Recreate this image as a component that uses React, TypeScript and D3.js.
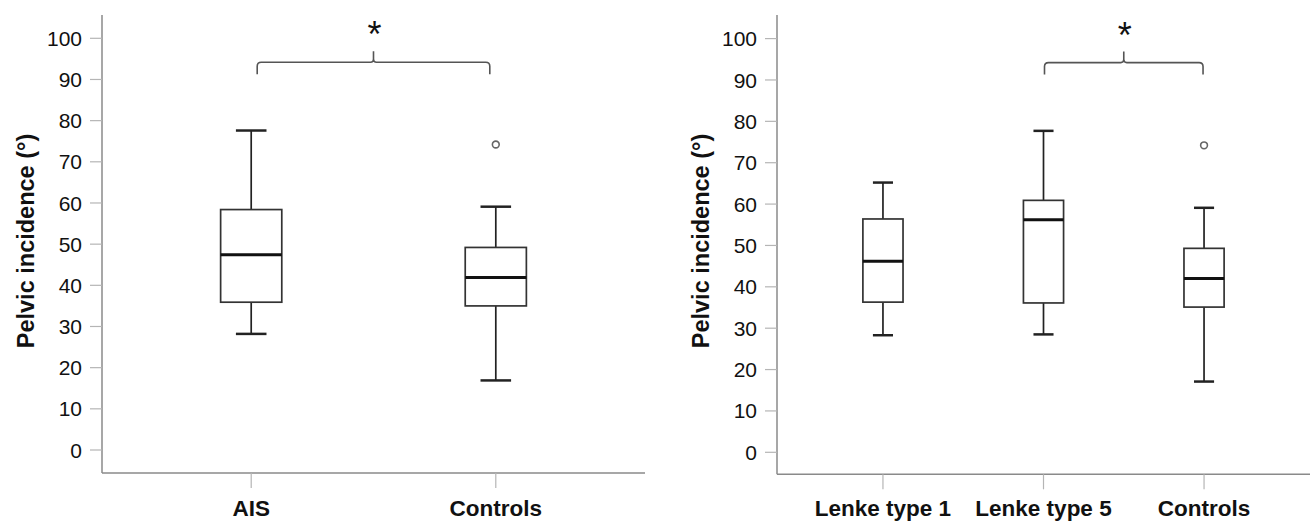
import React, { useRef, useEffect } from 'react';
import * as d3 from 'd3';

// tick labels shared by both panels
const yTicks = [0, 10, 20, 30, 40, 50, 60, 70, 80, 90, 100];

// left panel: AIS vs controls
const aisCategories = ['AIS', 'Controls'];
const aisWhiskerLow = [28.2, 16.9];
const aisQ1 = [35.9, 35.0];
const aisMedian = [47.4, 41.9];
const aisQ3 = [58.4, 49.2];
const aisWhiskerHigh = [77.6, 59.1];
const aisOutliers = [[], [74.2]];

// right panel: Lenke types vs controls
const lenkeCategories = ['Lenke type 1', 'Lenke type 5', 'Controls'];
const lenkeWhiskerLow = [28.3, 28.5, 17.1];
const lenkeQ1 = [36.3, 36.1, 35.1];
const lenkeMedian = [46.2, 56.2, 42.0];
const lenkeQ3 = [56.4, 60.9, 49.3];
const lenkeWhiskerHigh = [65.2, 77.7, 59.1];
const lenkeOutliers = [[], [], [74.2]];

interface PanelOpts {
  categories: string[];
  low: number[];
  q1: number[];
  median: number[];
  q3: number[];
  high: number[];
  outliers: number[][];
  left: number;
  right: number;
  top: number;
  bottom: number;
  y0: number;
  y100: number;
  padding: number;
  bracket: [number, number];
  bracketInset: number;
}

const FONT = 'Liberation Sans, Arial, Helvetica, sans-serif';

function drawPanel(svg: d3.Selection<SVGSVGElement, unknown, null, undefined>, o: PanelOpts) {
  const g = svg.append('g');

  const x = d3.scalePoint<string>()
    .domain(o.categories)
    .range([o.left, o.right])
    .padding(o.padding);

  const y = d3.scaleLinear().domain([0, 100]).range([o.y0, o.y100]);

  const step = x.step();
  const boxW = step * 0.25;
  const capW = boxW / 2;

  // y axis
  g.append('line')
    .attr('x1', o.left).attr('x2', o.left)
    .attr('y1', o.top).attr('y2', o.bottom)
    .attr('stroke', '#8a8a8a').attr('stroke-width', 1.5);

  g.selectAll('.ytick')
    .data(yTicks)
    .join('line')
    .attr('x1', o.left - 12).attr('x2', o.left)
    .attr('y1', d => y(d)).attr('y2', d => y(d))
    .attr('stroke', '#b5b5b5').attr('stroke-width', 1.2);

  g.selectAll('.ylabel')
    .data(yTicks)
    .join('text')
    .attr('x', o.left - 20)
    .attr('y', d => y(d))
    .attr('dy', '0.36em')
    .attr('text-anchor', 'end')
    .style('font-family', FONT)
    .style('font-size', '21px')
    .style('fill', '#111')
    .text(d => d);

  // axis title
  g.append('text')
    .attr('transform', `translate(${o.left - 68},241) rotate(-90)`)
    .attr('text-anchor', 'middle')
    .style('font-family', FONT)
    .style('font-size', '23.5px')
    .style('font-weight', 'bold')
    .style('fill', '#111')
    .text('Pelvic incidence (°)');

  // x axis
  g.append('line')
    .attr('x1', o.left).attr('x2', o.right)
    .attr('y1', o.bottom).attr('y2', o.bottom)
    .attr('stroke', '#8a8a8a').attr('stroke-width', 1.5);

  g.selectAll('.xtick')
    .data(o.categories)
    .join('line')
    .attr('x1', d => x(d)!).attr('x2', d => x(d)!)
    .attr('y1', o.bottom).attr('y2', o.bottom + 15)
    .attr('stroke', '#b5b5b5').attr('stroke-width', 1.2);

  g.selectAll('.xlabel')
    .data(o.categories)
    .join('text')
    .attr('x', d => x(d)!)
    .attr('y', 516)
    .attr('text-anchor', 'middle')
    .style('font-family', FONT)
    .style('font-size', '22.5px')
    .style('font-weight', 'bold')
    .style('fill', '#111')
    .text(d => d);

  // boxes
  const boxes = g.selectAll('.box')
    .data(o.categories.map((c, i) => ({
      c, low: o.low[i], q1: o.q1[i], med: o.median[i], q3: o.q3[i], high: o.high[i], out: o.outliers[i],
    })))
    .join('g');

  boxes.append('line')
    .attr('x1', d => x(d.c)!).attr('x2', d => x(d.c)!)
    .attr('y1', d => y(d.high)).attr('y2', d => y(d.q3))
    .attr('stroke', '#222').attr('stroke-width', 1.7);

  boxes.append('line')
    .attr('x1', d => x(d.c)!).attr('x2', d => x(d.c)!)
    .attr('y1', d => y(d.q1)).attr('y2', d => y(d.low))
    .attr('stroke', '#222').attr('stroke-width', 1.7);

  boxes.selectAll('.cap')
    .data(d => [{ c: d.c, v: d.low }, { c: d.c, v: d.high }])
    .join('line')
    .attr('x1', d => x(d.c)! - capW / 2).attr('x2', d => x(d.c)! + capW / 2)
    .attr('y1', d => y(d.v)).attr('y2', d => y(d.v))
    .attr('stroke', '#222').attr('stroke-width', 2.5);

  boxes.append('rect')
    .attr('x', d => x(d.c)! - boxW / 2)
    .attr('y', d => y(d.q3))
    .attr('width', boxW)
    .attr('height', d => y(d.q1) - y(d.q3))
    .attr('fill', '#fff')
    .attr('stroke', '#333').attr('stroke-width', 1.7);

  boxes.append('line')
    .attr('x1', d => x(d.c)! - boxW / 2).attr('x2', d => x(d.c)! + boxW / 2)
    .attr('y1', d => y(d.med)).attr('y2', d => y(d.med))
    .attr('stroke', '#111').attr('stroke-width', 3);

  boxes.selectAll('.outlier')
    .data(d => d.out.map(v => ({ c: d.c, v })))
    .join('circle')
    .attr('cx', d => x(d.c)!)
    .attr('cy', d => y(d.v))
    .attr('r', 3.4)
    .attr('fill', '#fff')
    .attr('stroke', '#666').attr('stroke-width', 1.6);

  // significance bracket
  const bx1 = x(o.categories[o.bracket[0]])! + o.bracketInset;
  const bx2 = x(o.categories[o.bracket[1]])! - o.bracketInset;
  const bm = (bx1 + bx2) / 2;
  const arm = y(94.2);
  const r = 4;
  const p = d3.path();
  p.moveTo(bx1, arm + 12);
  p.lineTo(bx1, arm + r);
  p.quadraticCurveTo(bx1, arm, bx1 + r, arm);
  p.lineTo(bm - 3, arm);
  p.quadraticCurveTo(bm, arm, bm, arm - 3);
  p.lineTo(bm, arm - 11);
  p.moveTo(bm, arm - 3);
  p.quadraticCurveTo(bm, arm, bm + 3, arm);
  p.lineTo(bx2 - r, arm);
  p.quadraticCurveTo(bx2, arm, bx2, arm + r);
  p.lineTo(bx2, arm + 12);
  g.append('path')
    .attr('d', p.toString())
    .attr('fill', 'none')
    .attr('stroke', '#555').attr('stroke-width', 1.6);

  g.append('text')
    .attr('x', bm + 1)
    .attr('y', arm - 15)
    .attr('text-anchor', 'middle')
    .style('font-family', FONT)
    .style('font-size', '36px')
    .style('fill', '#111')
    .text('*');
}

const App: React.FC = () => {
  const svgRef = useRef<SVGSVGElement | null>(null);

  useEffect(() => {
    if (!svgRef.current) return;
    const svg = d3.select(svgRef.current);
    svg.selectAll('*').remove();

    drawPanel(svg, {
      categories: aisCategories,
      low: aisWhiskerLow, q1: aisQ1, median: aisMedian, q3: aisQ3, high: aisWhiskerHigh, outliers: aisOutliers,
      left: 102, right: 645, top: 15, bottom: 473, y0: 450, y100: 38.3,
      padding: 0.61, bracket: [0, 1], bracketInset: 6,
    });

    drawPanel(svg, {
      categories: lenkeCategories,
      low: lenkeWhiskerLow, q1: lenkeQ1, median: lenkeMedian, q3: lenkeQ3, high: lenkeWhiskerHigh, outliers: lenkeOutliers,
      left: 777, right: 1310, top: 15, bottom: 474.3, y0: 452.3, y100: 38.6,
      padding: 0.66, bracket: [1, 2], bracketInset: 1,
    });
  }, []);

  return (
    <svg
      ref={svgRef}
      width={1310}
      height={522}
      style={{ position: 'absolute', left: 0, top: 0, background: '#fff' }}
    />
  );
};

export default App;
